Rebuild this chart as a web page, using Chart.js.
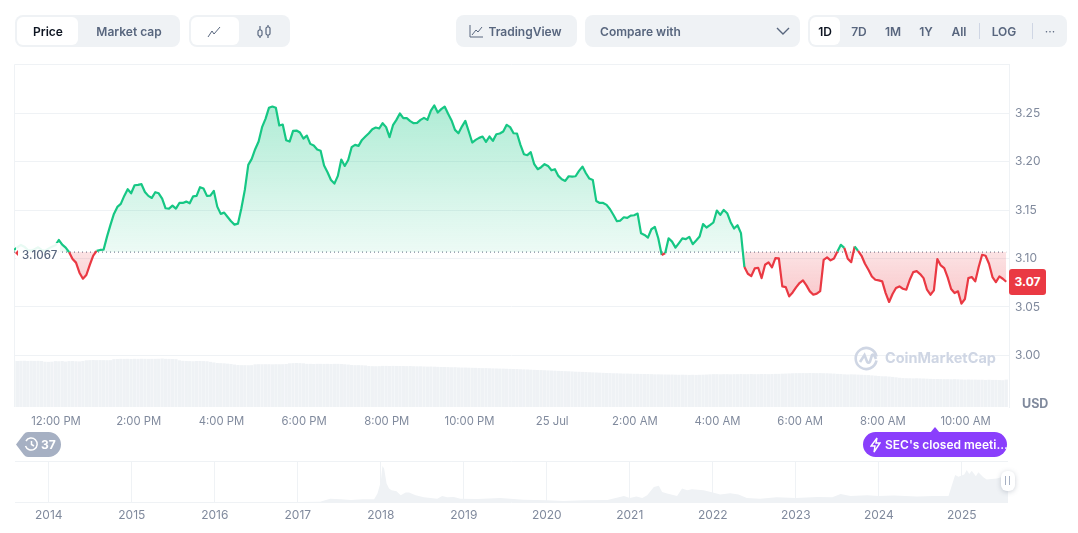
<!DOCTYPE html>
<html>
<head>
<meta charset="utf-8">
<title>XRP price chart</title>
<script src="https://cdn.jsdelivr.net/npm/chart.js@4"></script>
<style>
    html, body { margin: 0; padding: 0; background: #fff; }
    body { width: 1078px; height: 533px; position: relative; overflow: hidden; font-family: Inter, sans-serif; color: #58667e; }
    canvas { position: absolute; left: 0; }
    #mainChart { top: 0; }
    #navChart { top: 455px; }
    .box { position: absolute; box-sizing: border-box; background: #eff2f5; border-radius: 8px; top: 15px; height: 32px; }
    .tab { position: absolute; top: 2px; height: 28px; background: #fff; border-radius: 6px; }
    .txt { position: absolute; top: 0; line-height: 33px; font-size: 12px; font-weight: 600; transform: translateX(-50%); white-space: nowrap; }
    .sep { position: absolute; top: 8px; height: 16px; width: 1px; background: #cfd6e4; }
    svg { position: absolute; }
    .abs { position: absolute; white-space: nowrap; }
</style>
</head>
<body>
<canvas id="mainChart" width="1078" height="440"></canvas>
<canvas id="navChart" width="1078" height="78"></canvas>

<div class="box" style="left:15px;width:165px">
    <div class="tab" style="left:2px;width:61px"></div>
    <div class="txt" style="left:33px;color:#0d1421">Price</div>
    <div class="txt" style="left:114px">Market cap</div>
</div>
<div class="box" style="left:189px;width:101px">
    <div class="tab" style="left:2px;width:48px"></div>
    <svg style="left:18px;top:10px" width="14" height="13" fill="none" stroke="#58667e" stroke-width="1"><path d="M1 12 L5 6 L7 9 L13 2"/></svg>
    <svg style="left:67px;top:9px" width="16" height="15" fill="none" stroke="#58667e" stroke-width="1.2"><rect x="2" y="6" width="4" height="6" rx="1.5"/><path d="M4 2V6M4 12V14"/><rect x="10" y="3" width="4" height="8" rx="1.5"/><path d="M12 1V3M12 11V14"/></svg>
</div>
<div class="box" style="left:456px;width:121px">
    <svg style="left:13px;top:9px" width="15" height="14" fill="none" stroke="#58667e" stroke-width="1"><path d="M1 1V13H14M3 11L7 6L9 8L13 3"/></svg>
    <div class="txt" style="left:69px">TradingView</div>
</div>
<div class="box" style="left:585px;width:215px">
    <div class="txt" style="left:55.500px">Compare with</div>
    <svg style="left:191px;top:12px" width="14" height="9" fill="none" stroke="#58667e" stroke-width="1.4"><path d="M1 1L7 7L13 1"/></svg>
</div>
<div class="box" style="left:808px;width:259px">
    <div class="tab" style="left:2px;width:30px"></div>
    <div class="txt" style="left:17px;color:#0d1421">1D</div>
    <div class="txt" style="left:51px">7D</div>
    <div class="txt" style="left:85px">1M</div>
    <div class="txt" style="left:118px">1Y</div>
    <div class="txt" style="left:151px">All</div>
    <div class="sep" style="left:171px"></div>
    <div class="txt" style="left:196px">LOG</div>
    <div class="sep" style="left:224px"></div>
    <div class="txt" style="left:242px;font-weight:400">&middot;&middot;&middot;</div>
</div>

<div class="abs" style="left:16px;top:243px;width:44px;height:20px;background:rgba(255,255,255,.9)"></div>
<svg style="left:15px;top:250px" width="3" height="6"><path d="M3 0V6L0 3Z" fill="#ea3943"/></svg>
<div class="abs" style="left:22px;top:246.500px;font-size:11.500px;line-height:16px;font-weight:500">3.1067</div>

<div class="abs" style="left:1009px;top:269px;width:37px;height:26px;line-height:26px;text-align:center;background:#ea3943;border-radius:3px;color:#fff;font-size:12px;font-weight:700">3.07</div>
<div class="abs" style="left:1022px;top:396px;font-size:12.500px;line-height:16px;font-weight:700;color:#808a9d">USD</div>

<svg style="left:854px;top:346px" width="25" height="25" fill="none" stroke="#cfd6e4" stroke-width="2.6"><path d="M22.500 14.500A10.500 10.500 0 1 1 22.500 10.500"/><path d="M6 16L10.500 9L13 15.500Q14.500 18 16 15.500L18 9Q20 7.500 22 13"/></svg>
<div class="abs" style="left:885px;top:348px;font-size:14.500px;line-height:20px;font-weight:700;color:#cfd6e4">CoinMarketCap</div>

<svg style="left:15px;top:432px" width="46" height="25"><path d="M1 12.500L9 2Q10.500 0 13 0H33.500A12.500 12.500 0 0 1 33.500 25H13Q10.500 25 9 23Z" fill="#a6b0c3"/><g fill="none" stroke="#fff" stroke-width="1.500"><path d="M11 9A6 6 0 1 1 10.500 14"/><path d="M16.500 9V12.500L19 14"/></g></svg>
<div class="abs" style="left:41px;top:432px;line-height:25px;font-size:12px;font-weight:700;color:#fff">37</div>

<div class="abs" style="left:863px;top:432px;width:144px;height:25px;border-radius:13px;background:#8a3ffc"></div>
<svg style="left:930px;top:427px" width="10" height="6"><path d="M0 6L5 0L10 6Z" fill="#8a3ffc"/></svg>
<svg style="left:870px;top:437px" width="11" height="16" fill="none" stroke="#fff" stroke-width="1.400"><path d="M7 1L1 9H5L4 15L10 6H6Z"/></svg>
<div class="abs" style="left:885px;top:432px;line-height:25px;font-size:12px;font-weight:600;color:#fff">SEC's closed meeti...</div>

<div class="abs" style="left:1001px;top:471px;width:14px;height:20px;background:#fff;border-radius:6px;box-shadow:0 1px 5px rgba(88,102,126,.3)"></div>
<div class="abs" style="left:1005px;top:476px;width:1px;height:9px;background:#a6b0c3"></div>
<div class="abs" style="left:1009px;top:476px;width:1px;height:9px;background:#a6b0c3"></div>

<script>
// 5 minute closes
const prices = [
    3.1089,3.1117,3.1141,3.1123,3.1089,3.1082,3.1096,3.1117,3.1089,3.1079,
    3.1103,3.1123,3.1137,3.1192,3.1144,3.1113,3.1065,3.0996,3.0958,3.0854,
    3.0792,3.0830,3.0934,3.1030,3.1079,3.1089,3.1092,3.1227,3.1348,3.1462,
    3.1534,3.1565,3.1648,3.1717,3.1675,3.1758,3.1762,3.1769,3.1689,3.1648,
    3.1627,3.1686,3.1675,3.1620,3.1520,3.1517,3.1548,3.1517,3.1575,3.1575,
    3.1589,3.1572,3.1644,3.1648,3.1738,3.1724,3.1648,3.1651,3.1700,3.1537,
    3.1462,3.1475,3.1430,3.1386,3.1351,3.1361,3.1520,3.1710,3.1969,3.2031,
    3.2131,3.2210,3.2359,3.2445,3.2559,3.2572,3.2559,3.2376,3.2386,3.2224,
    3.2210,3.2321,3.2324,3.2303,3.2241,3.2272,3.2186,3.2169,3.2127,3.2114,
    3.1962,3.1893,3.1813,3.1775,3.1855,3.2024,3.1958,3.2020,3.2152,3.2176,
    3.2165,3.2227,3.2262,3.2296,3.2338,3.2355,3.2345,3.2400,3.2359,3.2255,
    3.2379,3.2434,3.2500,3.2452,3.2452,3.2421,3.2400,3.2403,3.2434,3.2455,
    3.2434,3.2531,3.2583,3.2510,3.2545,3.2572,3.2497,3.2428,3.2331,3.2296,
    3.2365,3.2424,3.2314,3.2200,3.2227,3.2248,3.2262,3.2207,3.2262,3.2217,
    3.2286,3.2293,3.2314,3.2383,3.2359,3.2296,3.2293,3.2176,3.2079,3.2069,
    3.2100,3.1976,3.1924,3.1945,3.1976,3.1958,3.1913,3.1924,3.1855,3.1820,
    3.1803,3.1851,3.1848,3.1851,3.1907,3.1951,3.1882,3.1827,3.1813,3.1596,
    3.1575,3.1575,3.1555,3.1510,3.1451,3.1386,3.1393,3.1427,3.1420,3.1444,
    3.1448,3.1465,3.1261,3.1244,3.1217,3.1303,3.1327,3.1210,3.1037,3.1054,
    3.1210,3.1175,3.1113,3.1160,3.1208,3.1201,3.1225,3.1149,3.1187,3.1228,
    3.1356,3.1321,3.1345,3.1373,3.1497,3.1452,3.1503,3.1469,3.1376,3.1311,
    3.1345,3.1263,3.0912,3.0843,3.0819,3.0898,3.0905,3.0798,3.0936,3.0960,
    3.0908,3.1005,3.1001,3.0712,3.0705,3.0609,3.0650,3.0702,3.0747,3.0774,
    3.0723,3.0661,3.0626,3.0637,3.0664,3.0987,3.1012,3.0981,3.1001,3.1073,
    3.1142,3.1111,3.0998,3.0963,3.1125,3.1080,3.1029,3.0946,3.0884,3.0815,
    3.0781,3.0774,3.0764,3.0643,3.0551,3.0633,3.0695,3.0712,3.0688,3.0678,
    3.0781,3.0860,3.0870,3.0840,3.0798,3.0678,3.0626,3.0671,3.0994,3.0929,
    3.0901,3.0805,3.0685,3.0643,3.0661,3.0533,3.0582,3.0798,3.0809,3.0764,
    3.0912,3.1039,3.1029,3.0946,3.0809,3.0757,3.0815,3.0791,3.0760
];

// 24h volume in billions, one bar per price
const volumes = [
    7.62,7.60,7.62,7.63,7.60,7.62,7.61,7.62,7.60,7.47,7.45,7.48,
    7.57,7.55,7.58,7.50,7.57,7.58,7.55,7.52,7.60,
    7.70,7.73,7.75,7.73,7.74,7.73,7.72,7.73,7.90,
    7.92,7.95,7.94,7.95,7.93,7.95,7.94,7.96,7.95,7.94,7.95,7.95,7.96,8.00,7.95,7.94,7.92,7.90,
    7.70,7.62,7.60,7.57,7.55,7.58,7.60,7.57,7.55,7.45,7.35,
    7.25,7.23,7.20,7.15,7.10,7.00,6.92,6.90,6.90,6.88,6.90,
    7.04,7.06,7.05,7.06,7.06,7.04,7.06,7.05,7.06,7.10,
    7.20,7.23,7.25,7.23,7.20,
    7.12,7.12,7.10,7.12,7.12,7.11,7.12,7.10,7.12,7.12,7.10,7.05,7.00,
    6.92,6.90,6.90,6.88,6.85,6.75,6.73,6.72,6.73,
    6.78,6.78,6.76,6.78,6.77,6.76,
    6.75,6.74,6.75,6.72,6.70,6.71,6.68,6.66,6.67,6.65,6.62,6.60,6.60,6.58,6.55,6.56,6.52,
    6.50,6.50,6.48,6.46,6.45,6.42,6.40,6.41,6.38,6.36,6.35,6.33,6.32,6.30,6.28,6.26,
    6.25,6.22,6.20,6.18,6.15,6.12,6.10,6.08,6.05,6.02,6.00,5.98,5.95,5.92,5.90,
    5.88,5.85,5.82,5.80,5.78,5.75,5.72,5.70,5.68,5.65,5.62,5.60,5.58,5.55,
    5.55,5.52,5.50,5.50,5.48,5.46,5.46,5.44,5.42,5.42,5.40,5.38,5.38,5.36,
    5.35,5.34,5.34,5.32,5.30,5.32,5.30,5.28,5.30,5.28,5.30,5.32,5.34,5.38,
    5.40,5.40,5.38,5.40,5.40,5.38,5.40,5.40,5.42,5.40,5.40,5.42,5.40,5.40,5.42,5.42,5.40,
    5.42,5.45,5.45,5.48,5.50,5.52,5.55,5.57,5.57,5.58,5.57,5.60,5.58,5.57,5.58,5.56,
    5.55,5.52,5.50,5.45,5.42,5.38,5.35,5.38,5.36,5.33,5.30,5.28,5.25,5.20,
    5.15,5.10,5.05,5.05,5.00,4.95,4.88,4.80,4.75,
    4.73,4.72,4.70,4.72,4.70,4.68,4.65,4.62,4.60,4.60,4.58,4.57,
    4.57,4.55,4.57,4.55,4.52,4.50,4.52,4.50,4.50,4.48,4.48,4.45,4.48,4.45,4.45,4.42,4.40,4.50
];

const basePrice = 3.1067;
const startMinute = -61;   // minutes from 12:00 PM
const stepMinutes = 5;
const yTicks = [3.00, 3.05, 3.10, 3.15, 3.20, 3.25];
const xTickMinutes = [0, 120, 240, 360, 480, 600, 720, 840, 960, 1080, 1200, 1320];
const xTickLabels = ['12:00 PM', '2:00 PM', '4:00 PM', '6:00 PM', '8:00 PM', '10:00 PM', '25 Jul', '2:00 AM', '4:00 AM', '6:00 AM', '8:00 AM', '10:00 AM'];

// overview strip, whole history
const navYears = [
    2013.61, 2014.5, 2015.5, 2016.5, 2017.0, 2017.27, 2017.33, 2017.39, 2017.52, 2017.64, 2017.78, 2017.92, 2017.96,
    2018.0, 2018.02, 2018.04, 2018.07, 2018.1, 2018.13, 2018.19, 2018.24, 2018.3, 2018.34, 2018.42, 2018.52, 2018.68,
    2018.74, 2018.8, 2018.88, 2018.96, 2019.16, 2019.44, 2019.72, 2020.0, 2020.2, 2020.45, 2020.73, 2020.93, 2021.0,
    2021.08, 2021.15, 2021.21, 2021.29, 2021.35, 2021.39, 2021.45, 2021.57, 2021.63, 2021.69, 2021.75, 2021.89, 2022.0,
    2022.09, 2022.21, 2022.31, 2022.41, 2022.57, 2022.77, 2023.0, 2023.26, 2023.44, 2023.54, 2023.66, 2023.86, 2024.0,
    2024.18, 2024.46, 2024.66, 2024.84, 2024.92, 2024.96, 2025.03, 2025.06, 2025.09, 2025.12, 2025.17, 2025.2, 2025.26, 2025.3, 2025.42, 2025.5, 2025.56
];
const navPrices = [
    0.006, 0.006, 0.008, 0.007, 0.007, 0.015, 0.15, 0.30, 0.24, 0.18, 0.24, 0.24, 0.75,
    1.80, 3.21, 3.00, 1.65, 1.20, 1.05, 0.96, 0.60, 0.84, 0.84, 0.60, 0.42, 0.30,
    0.54, 0.42, 0.45, 0.30, 0.27, 0.36, 0.21, 0.15, 0.09, 0.15, 0.18, 0.54, 0.36,
    0.48, 0.36, 0.60, 1.35, 1.44, 0.90, 0.75, 0.54, 1.20, 1.05, 1.14, 1.05, 0.84,
    0.66, 0.78, 0.66, 0.36, 0.30, 0.42, 0.36, 0.45, 0.42, 0.72, 0.54, 0.60, 0.54,
    0.57, 0.48, 0.54, 0.54, 2.40, 2.25, 2.45, 2.85, 2.50, 2.80, 2.30, 2.65, 2.20, 2.00, 2.10, 2.25, 2.55
];
const navTicks = [2014, 2015, 2016, 2017, 2018, 2019, 2020, 2021, 2022, 2023, 2024, 2025];

const green = '#16c784';
const red = '#ea3943';
const gridColor = '#eff2f5';
const tickColor = '#808a9d';

Chart.defaults.font.family = 'Inter, sans-serif';
Chart.defaults.font.size = 12;
Chart.defaults.animation = false;

const minutes = prices.map((p, i) => startMinute + i * stepMinutes);
const pricePoints = prices.map((p, i) => ({ x: minutes[i], y: p }));
const volumePoints = volumes.map((v, i) => ({ x: minutes[i], y: v }));

const ctx = document.getElementById('mainChart').getContext('2d');

const greenFill = ctx.createLinearGradient(0, 105, 0, 252);
greenFill.addColorStop(0, 'rgba(22,199,132,0.34)');
greenFill.addColorStop(1, 'rgba(22,199,132,0.08)');
const redFill = ctx.createLinearGradient(0, 252, 0, 307);
redFill.addColorStop(0, 'rgba(234,57,67,0.14)');
redFill.addColorStop(1, 'rgba(234,57,67,0.30)');

// left and top edge of the plot, the right one is the y axis border
const plotFrame = {
    id: 'plotFrame',
    beforeDatasetsDraw(chart) {
        const { ctx, chartArea } = chart;
        ctx.save();
        ctx.strokeStyle = gridColor;
        ctx.lineWidth = 1;
        ctx.beginPath();
        ctx.moveTo(chartArea.left + 0.5, chartArea.bottom);
        ctx.lineTo(chartArea.left + 0.5, chartArea.top + 0.5);
        ctx.lineTo(chartArea.right, chartArea.top + 0.5);
        ctx.stroke();
        ctx.restore();
    }
};

new Chart(ctx, {
    type: 'line',
    data: {
        datasets: [
            {
                data: pricePoints,
                yAxisID: 'y',
                borderWidth: 2.2,
                pointRadius: 0,
                tension: 0,
                borderJoinStyle: 'round',
                borderColor: green,
                fill: { target: { value: basePrice }, above: greenFill, below: redFill },
                segment: {
                    borderColor: (c) => (c.p0.parsed.y + c.p1.parsed.y) / 2 >= basePrice ? green : red
                },
                order: 1
            },
            {
                data: [{ x: minutes[0], y: basePrice }, { x: minutes[minutes.length - 1], y: basePrice }],
                yAxisID: 'y',
                borderColor: '#58667e',
                borderWidth: 1,
                borderDash: [1, 3],
                pointRadius: 0,
                fill: false,
                order: 2
            },
            {
                type: 'bar',
                data: volumePoints,
                yAxisID: 'yVol',
                backgroundColor: '#eff2f5',
                barThickness: 2.6,
                order: 3
            }
        ]
    },
    options: {
        responsive: false,
        events: [],
        layout: { padding: { left: 14, top: 64, right: 0, bottom: 0 } },
        plugins: { legend: { display: false }, tooltip: { enabled: false } },
        scales: {
            x: {
                type: 'linear',
                min: startMinute,
                max: 1383,
                offset: false,
                grid: { display: false },
                border: { display: false },
                ticks: {
                    color: tickColor,
                    font: { size: 11.3 },
                    padding: 0,
                    autoSkip: false,
                    maxRotation: 0,
                    callback: (v) => xTickLabels[xTickMinutes.indexOf(v)]
                },
                afterBuildTicks: (s) => { s.ticks = xTickMinutes.map((v) => ({ value: v })); },
                afterFit: (s) => { s.height = 33; }
            },
            y: {
                position: 'right',
                min: 2.9465,
                max: 3.3012,
                grid: { color: gridColor, drawTicks: false },
                border: { display: true, color: gridColor },
                ticks: {
                    color: tickColor,
                    padding: 6,
                    callback: (v) => v.toFixed(2)
                },
                afterBuildTicks: (s) => { s.ticks = yTicks.map((v) => ({ value: v })); },
                afterFit: (s) => { s.width = 69; }
            },
            yVol: { display: false, min: 0, max: 57 }
        }
    },
    plugins: [plotFrame]
});

new Chart(document.getElementById('navChart'), {
    type: 'line',
    data: {
        datasets: [{
            data: navYears.map((y, i) => ({ x: y, y: navPrices[i] })),
            borderWidth: 0,
            pointRadius: 0,
            tension: 0,
            backgroundColor: '#eff2f5',
            fill: 'origin'
        }]
    },
    options: {
        responsive: false,
        events: [],
        layout: { padding: { left: 15, top: 6, right: 70, bottom: 0 } },
        plugins: { legend: { display: false }, tooltip: { enabled: false } },
        scales: {
            x: {
                type: 'linear',
                min: 2013.593,
                max: 2025.557,
                grid: { color: gridColor, drawTicks: false },
                border: { display: false },
                ticks: {
                    color: tickColor,
                    padding: 6,
                    autoSkip: false,
                    maxRotation: 0,
                    callback: (v) => String(v)
                },
                afterBuildTicks: (s) => { s.ticks = navTicks.map((v) => ({ value: v })); },
                afterFit: (s) => { s.height = 31; }
            },
            y: {
                min: 0,
                max: 3.66,
                grid: { color: gridColor, drawTicks: false },
                border: { display: false },
                ticks: { display: false },
                afterBuildTicks: (s) => { s.ticks = [{ value: 0 }, { value: 3.66 }]; },
                afterFit: (s) => { s.width = 0; }
            }
        }
    }
});
</script>
</body>
</html>
